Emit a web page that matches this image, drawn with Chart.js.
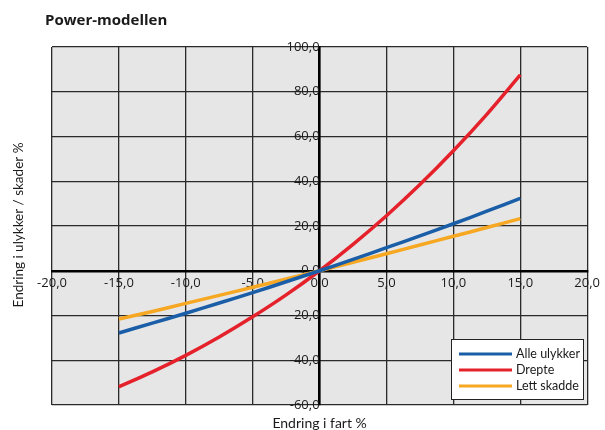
<!DOCTYPE html>
<html>
<head>
<meta charset="utf-8">
<script src="https://cdn.jsdelivr.net/npm/chart.js@4/dist/chart.umd.min.js"></script>
<style>
  body { margin: 0; background: #fff; }
  #wrap { width: 605px; height: 430px; position: relative; }
</style>
</head>
<body>
<div id="wrap"><canvas id="powerChart"></canvas></div>
<script>
// Endring i fart (%)
const fart = [-15, -12.5, -10, -7.5, -5, -2.5, 0, 2.5, 5, 7.5, 10, 12.5, 15];
// Endring i ulykker / skader (%)
const alleUlykker = [-27.8, -23.4, -19.0, -14.4, -9.8, -4.9, 0, 5.1, 10.3, 15.6, 21.0, 26.6, 32.3];
const drepte = [-51.9, -45.2, -37.8, -29.6, -20.6, -10.8, 0, 11.8, 24.6, 38.5, 53.6, 69.9, 87.5];
const lettSkadde = [-21.6, -18.2, -14.6, -11.0, -7.4, -3.7, 0, 3.8, 7.6, 11.5, 15.4, 19.3, 23.3];
const serieNavn = ['Alle ulykker', 'Drepte', 'Lett skadde'];
const farger = ['#1b5ea8', '#e5222b', '#f7a823'];

const pts = (vals) => fart.map((x, i) => ({ x, y: vals[i] }));
const komma = (v) => Number(v).toFixed(1).replace('.', ',');
const FONT = '"Open Sans", sans-serif';
const SMAL = 'Lato, sans-serif';

// grå bakgrunn, titler og egen forklaring
const deco = {
  id: 'deco',
  beforeDraw(chart) {
    const { ctx, chartArea: a } = chart;
    ctx.save();
    ctx.fillStyle = '#e6e6e6';
    ctx.fillRect(a.left, a.top, a.right - a.left, a.bottom - a.top);
    ctx.restore();
  },
  afterDraw(chart) {
    const { ctx, chartArea: a } = chart;
    ctx.save();
    ctx.fillStyle = '#1a1a1a';
    ctx.font = 'bold 15px ' + FONT;
    ctx.textBaseline = 'middle';
    ctx.fillText('Power-modellen', 45, 21);

    ctx.font = '14px ' + SMAL;
    ctx.textAlign = 'center';
    ctx.fillText('Endring i fart %', (a.left + a.right) / 2, 423);
    ctx.font = '13.5px ' + SMAL;
    ctx.translate(19, 225);
    ctx.rotate(-Math.PI / 2);
    ctx.fillText('Endring i ulykker / skader %', 0, 0);
    ctx.restore();

    // forklaring
    ctx.save();
    const bx = 451, by = 339, bw = 132, bh = 60;
    ctx.fillStyle = '#fff';
    ctx.fillRect(bx, by, bw, bh);
    ctx.strokeStyle = '#222';
    ctx.lineWidth = 1;
    ctx.strokeRect(bx + 0.5, by + 0.5, bw, bh);
    ctx.font = '12.5px ' + SMAL;
    ctx.textBaseline = 'middle';
    chart.data.datasets.forEach((ds, i) => {
      const y = by + 15 + i * 16;
      ctx.strokeStyle = ds.borderColor;
      ctx.lineWidth = 3;
      ctx.beginPath();
      ctx.moveTo(bx + 8, y);
      ctx.lineTo(bx + 61, y);
      ctx.stroke();
      ctx.fillStyle = '#1a1a1a';
      ctx.fillText(ds.label, bx + 65, y);
    });
    ctx.restore();
  },
};

new Chart(document.getElementById('powerChart'), {
  type: 'scatter',
  data: {
    datasets: [alleUlykker, drepte, lettSkadde].map((vals, i) => ({
      label: serieNavn[i],
      data: pts(vals),
      showLine: true,
      borderColor: farger[i],
      backgroundColor: farger[i],
      borderWidth: 3.5,
      pointRadius: 0,
      tension: 0.3,
    })),
  },
  options: {
    responsive: true,
    maintainAspectRatio: false,
    animation: false,
    layout: { padding: { left: 52, top: 47, right: 13, bottom: 25 } },
    plugins: { legend: { display: false }, tooltip: { enabled: false } },
    scales: {
      x: {
        type: 'linear',
        min: -20, max: 20,
        position: { y: 0 },
        grid: { color: '#2a2a2a', lineWidth: 1.3, drawTicks: false },
        border: { color: '#000', width: 2.5 },
        ticks: { stepSize: 5, callback: komma, color: '#1a1a1a', font: { family: FONT, size: 13 }, padding: 5, maxRotation: 0 },
      },
      y: {
        min: -60, max: 100,
        position: { x: 0 },
        grid: { color: '#2a2a2a', lineWidth: 1.3, drawTicks: false },
        border: { color: '#000', width: 2.5 },
        ticks: { stepSize: 20, callback: komma, color: '#1a1a1a', font: { family: FONT, size: 13 }, padding: 5 },
      },
    },
  },
  plugins: [deco],
});
</script>
</body>
</html>
